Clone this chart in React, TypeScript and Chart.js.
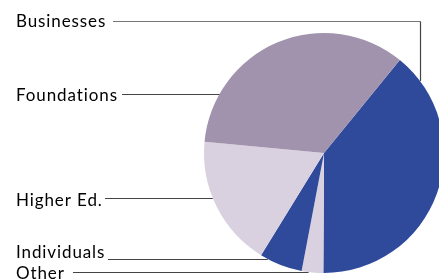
import React, { useEffect, useRef } from "react";
import { Chart, registerables } from "chart.js";

Chart.register(...registerables);

// Data (in drawing order, clockwise from the start rotation)
const categories = ["Businesses", "Other", "Individuals", "Higher Ed.", "Foundations"];
const shares = [39.2, 2.9, 5.8, 17.7, 34.4];
const sliceColors = ["#2F4A9B", "#D9D1E0", "#2F4A9B", "#D9D1E0", "#A193AD"];

// Label layout (annotation placement only)
const labelText = ["Businesses", "Foundations", "Higher Ed.", "Individuals", "Other"];
const labelBaseline = [27, 101, 206, 258, 279];
const leaderY = [21, 94, 198, 259, 272];
const leaderStartX = [113, 122, 105, 108, 73];
const elbowX = 420; // Businesses leader elbow

const labelPlugin = {
  id: "leaderLabels",
  afterDraw(chart: any) {
    const meta = chart.getDatasetMeta(0);
    const arc = meta.data[0];
    if (!arc) return;
    const cx = arc.x;
    const cy = arc.y;
    const r = arc.outerRadius;
    const ctx = chart.ctx;
    ctx.save();
    ctx.font = "17px Lato, 'Open Sans', sans-serif";
    (ctx as any).letterSpacing = "0.9px";
    ctx.fillStyle = "#000000";
    ctx.textBaseline = "alphabetic";
    labelText.forEach((t, i) => {
      ctx.fillText(t, 16, labelBaseline[i]);
    });
    ctx.lineWidth = 1.2;
    // Businesses: elbow down to the pie edge
    {
      const y = leaderY[0];
      const dx = elbowX - cx;
      const yEdge = cy - Math.sqrt(Math.max(r * r - dx * dx, 0));
      ctx.strokeStyle = "#777777";
      ctx.beginPath();
      ctx.moveTo(leaderStartX[0], y + 0.5);
      ctx.lineTo(elbowX + 0.5, y + 0.5);
      ctx.stroke();
      ctx.strokeStyle = "#444444";
      ctx.beginPath();
      ctx.moveTo(elbowX + 0.5, y + 0.5);
      ctx.lineTo(elbowX + 0.5, yEdge);
      ctx.stroke();
    }
    ctx.strokeStyle = "#444444";
    for (let i = 1; i < labelText.length; i++) {
      const y = leaderY[i];
      const dy = y - cy;
      const xEdge = cx - Math.sqrt(Math.max(r * r - dy * dy, 0));
      ctx.beginPath();
      ctx.moveTo(leaderStartX[i], y + 0.5);
      ctx.lineTo(xEdge, y + 0.5);
      ctx.stroke();
    }
    ctx.restore();
  },
};

export default function App() {
  const ref = useRef<HTMLCanvasElement>(null);
  useEffect(() => {
    if (!ref.current) return;
    const chart = new Chart(ref.current, {
      type: "pie",
      data: {
        labels: categories,
        datasets: [
          {
            data: shares,
            backgroundColor: sliceColors,
            borderWidth: 0,
          },
        ],
      },
      options: {
        responsive: false,
        animation: false,
        rotation: 39.2,
        layout: { padding: { left: 204, right: 5, top: 33, bottom: 6 } },
        plugins: {
          legend: { display: false },
          tooltip: { enabled: false },
        },
      },
      plugins: [labelPlugin],
    });
    return () => chart.destroy();
  }, []);
  return (
    <div
      style={{
        position: "fixed",
        left: 0,
        top: 0,
        width: 439,
        height: 279,
        overflow: "hidden",
        background: "#ffffff",
      }}
    >
      <canvas ref={ref} width={449} height={279} style={{ width: 449, height: 279, display: "block" }} />
    </div>
  );
}
